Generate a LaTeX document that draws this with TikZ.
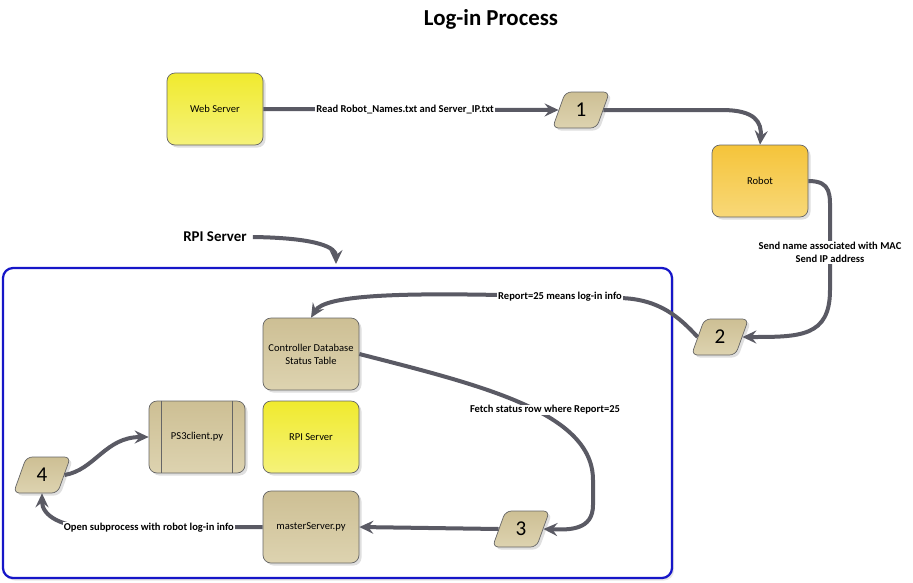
\documentclass[tikz,border=0pt]{standalone}
\usepackage{fontspec}
\setmainfont{Carlito}
\usetikzlibrary{arrows.meta,positioning,calc,shapes.geometric,shadows}

\definecolor{flowgray}{HTML}{5A5A64}
\definecolor{tantop}{HTML}{CDBF94}
\definecolor{tanbot}{HTML}{DDD3B0}
\definecolor{yeltop}{HTML}{F0EA2E}
\definecolor{yelbot}{HTML}{F5F27A}
\definecolor{orgtop}{HTML}{F5C43A}
\definecolor{orgbot}{HTML}{F8D878}
\definecolor{framblue}{HTML}{1616C8}

\begin{document}
\begin{tikzpicture}[x=0.2mm, y=-0.2mm,
  >={Stealth[length=2.8mm,width=2.6mm,inset=1mm]},
  bx/.style={draw=black!60, line width=0.4pt, rounded corners=1.6mm, align=center,
             minimum width=19.2mm, minimum height=14.4mm, inner sep=1pt,
             font=\fontsize{6}{7.5}\selectfont,
             drop shadow={opacity=0.25, shadow xshift=0.5mm, shadow yshift=-0.5mm}},
  tanbx/.style={bx, top color=tantop, bottom color=tanbot},
  yelbx/.style={bx, top color=yeltop, bottom color=yelbot},
  orgbx/.style={bx, top color=orgtop, bottom color=orgbot},
  num/.style={trapezium, trapezium left angle=72, trapezium right angle=108,
              trapezium stretches=true, draw=black!60, line width=0.4pt,
              rounded corners=1.2mm, top color=tantop, bottom color=tanbot,
              minimum width=11.4mm, minimum height=7.2mm, inner sep=0pt,
              font=\fontsize{12}{12}\selectfont,
              drop shadow={opacity=0.25, shadow xshift=0.5mm, shadow yshift=-0.5mm}},
  flow/.style={->, draw=flowgray, line width=0.8mm},
  lbl/.style={font=\fontsize{6}{7.5}\selectfont\bfseries, fill=white, inner sep=0.5pt,
              align=center}
]
\useasboundingbox (0,0) rectangle (913,582);

\node[font=\fontsize{13}{13}\selectfont\bfseries] (title) at (491,19) {Log-in Process};

% RPI server frame
\node[draw=framblue, line width=0.45mm, rounded corners=2mm, fill=white,
      minimum width=133.8mm, minimum height=62mm,
      drop shadow={opacity=0.2, shadow xshift=0.4mm, shadow yshift=-0.5mm}]
  (frame) at (337.5,423) {};

\node[yelbx] (web)   at (215,109) {Web Server};
\node[orgbx] (robot) at (760,181) {Robot};
\node[tanbx] (ctrl)  at (311,354) {Controller Database\\Status Table};
\node[tanbx] (ps3)   at (197,437) {PS3client.py};
\node[yelbx] (rpi)   at (311,437) {RPI Server};
\node[tanbx] (mst)   at (311,527) {masterServer.py};

\draw[black!60, line width=0.4pt] ([xshift=2.6mm]ps3.north west) -- ([xshift=2.6mm]ps3.south west)
  ([xshift=-2.6mm]ps3.north east) -- ([xshift=-2.6mm]ps3.south east);

\node[num] (n1) at (581,110) {1};
\node[num] (n2) at (720,337) {2};
\node[num] (n3) at (521,529) {3};
\node[num] (n4) at (42,475)  {4};

\node[font=\fontsize{8.5}{8.5}\selectfont\bfseries] (rpilbl) at (215,237) {RPI Server};
\coordinate (rpitop) at (336,264);

\draw[flow] (web.east) -- node[lbl, pos=0.48] {Read Robot\_Names.txt and Server\_IP.txt} (n1.west);
\draw[flow] (n1.east) -- (722,110) .. controls (755,110) and (762,122) .. (robot.north);
\draw[flow] (robot.east) .. controls (832,181) and (830,195) .. (830,215)
  -- node[lbl] {Send name associated with MAC\\Send IP address} (830,290)
  .. controls (830,337) and (800,337) .. (n2.east);
\draw[flow] (n2.west) .. controls (680,318) and (660,299) .. (620,298)
  -- node[lbl] {Report=25 means log-in info} (500,295)
  .. controls (400,293) and (325,295) .. (ctrl.north);
\draw[flow] (ctrl.east) .. controls (480,385) and (593,412) .. (593,480)
  -- (593,505) .. controls (593,530) and (570,530) .. (n3.east);
\draw[flow] (n3.west) -- (mst.east);
\draw[flow] (mst.west) -- node[lbl, pos=0.7] {Open subprocess with robot log-in info} (100,528)
  .. controls (60,528) and (42,515) .. (n4.south);
\draw[flow] (n4.east) .. controls (95,470) and (105,437) .. (ps3.west);
\draw[flow] (rpilbl.east) .. controls (320,238) and (336,248) .. (rpitop);

\node[lbl] at (545,410) {Fetch status row where Report=25};
\end{tikzpicture}
\end{document}
